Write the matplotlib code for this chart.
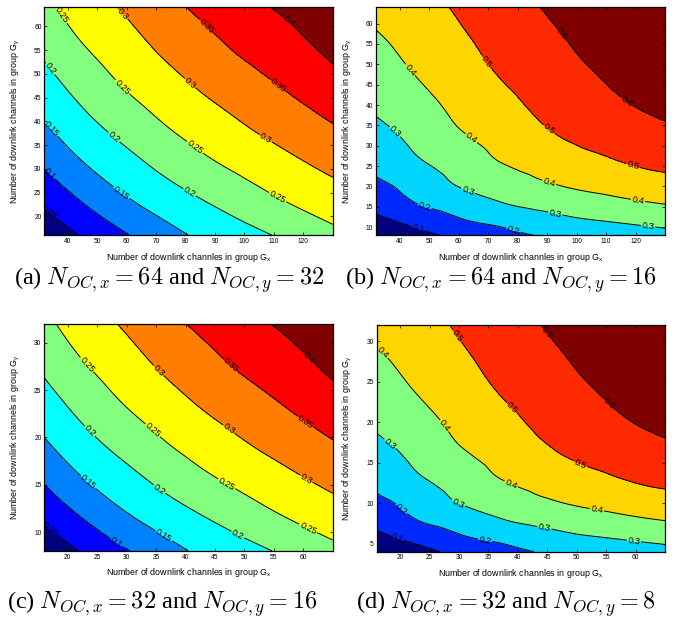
import numpy as np
import matplotlib
matplotlib.use("Agg")
import matplotlib.pyplot as plt
import matplotlib.tri as mtri
from matplotlib.colors import LinearSegmentedColormap

plt.rcParams.update({"font.family": "Liberation Sans", "mathtext.fontset": "cm"})

# ---- field for N_OC,x = 2*N_OC,y (panels a and c); rows follow the y grid, columns the x grid ----
x_a = [32, 46, 60, 74, 88, 102, 116, 130]
y_a = [16, 24, 32, 40, 48, 56, 64]
x_c = [16, 23, 30, 37, 44, 51, 58, 65]
y_c = [8, 12, 16, 20, 24, 28, 32]
z_ac = [
    [0.012, 0.057, 0.097, 0.134, 0.164, 0.187, 0.212, 0.237],
    [0.065, 0.110, 0.149, 0.180, 0.207, 0.233, 0.258, 0.280],
    [0.110, 0.155, 0.189, 0.220, 0.248, 0.272, 0.295, 0.317],
    [0.150, 0.191, 0.224, 0.255, 0.281, 0.306, 0.329, 0.352],
    [0.183, 0.222, 0.256, 0.285, 0.312, 0.336, 0.359, 0.384],
    [0.212, 0.251, 0.282, 0.313, 0.339, 0.364, 0.386, 0.415],
    [0.238, 0.276, 0.307, 0.338, 0.364, 0.390, 0.411, 0.443],
]
levels_ac = [0.05, 0.1, 0.15, 0.2, 0.25, 0.3, 0.35, 0.4]

# ---- field for N_OC,x = 4*N_OC,y (panels b and d) ----
x_b = [32, 46, 60, 74, 88, 102, 116, 130]
y_b = [8, 12, 16, 20, 24, 32, 40, 48, 56, 64]
x_d = [16, 23, 30, 37, 44, 51, 58, 65]
y_d = [4, 6, 8, 10, 12, 16, 20, 24, 28, 32]
z_bd = [
    [0.030, 0.071, 0.126, 0.167, 0.205, 0.227, 0.247, 0.268],
    [0.083, 0.140, 0.195, 0.232, 0.270, 0.298, 0.319, 0.340],
    [0.131, 0.203, 0.248, 0.297, 0.329, 0.359, 0.384, 0.405],
    [0.177, 0.237, 0.301, 0.337, 0.383, 0.413, 0.436, 0.457],
    [0.214, 0.273, 0.331, 0.382, 0.420, 0.454, 0.483, 0.506],
    [0.268, 0.324, 0.386, 0.430, 0.479, 0.516, 0.542, 0.571],
    [0.316, 0.366, 0.423, 0.469, 0.518, 0.551, 0.592, 0.624],
    [0.353, 0.406, 0.453, 0.506, 0.546, 0.587, 0.627, 0.650],
    [0.390, 0.433, 0.483, 0.532, 0.573, 0.618, 0.655, 0.670],
    [0.421, 0.460, 0.512, 0.557, 0.601, 0.646, 0.680, 0.688],
]
levels_bd = [0.1, 0.2, 0.3, 0.4, 0.5, 0.6]

captions = [r"(a) $N_{OC,x} = 64$ and $N_{OC,y} = 32$", r"(b) $N_{OC,x} = 64$ and $N_{OC,y} = 16$",
            r"(c) $N_{OC,x} = 32$ and $N_{OC,y} = 16$", r"(d) $N_{OC,x} = 32$ and $N_{OC,y} = 8$"]

# MATLAB-style jet
JET = LinearSegmentedColormap.from_list("mjet", [(0, (0, 0, .5)), (1/8, (0, 0, 1)), (3/8, (0, 1, 1)),
                                                  (5/8, (1, 1, 0)), (7/8, (1, 0, 0)), (1, (.5, 0, 0))])

panels = [
    (x_a, y_a, z_ac, levels_ac, (0.0656, 0.6229, 0.4273, 0.3654), np.arange(40, 121, 10), np.arange(20, 61, 5), (32, 130), (16, 64)),
    (x_b, y_b, z_bd, levels_bd, (0.5570, 0.6229, 0.4282, 0.3654), np.arange(40, 121, 10), np.arange(10, 61, 5), (32, 130), (8, 64)),
    (x_c, y_c, z_ac, levels_ac, (0.0656, 0.1170, 0.4273, 0.3638), np.arange(20, 61, 5), np.arange(10, 31, 5), (16, 65), (8, 32)),
    (x_d, y_d, z_bd, levels_bd, (0.5580, 0.1160, 0.4272, 0.3632), np.arange(20, 61, 5), np.arange(5, 31, 5), (16, 65), (4, 32)),
]

# label spots along the contour lines (MATLAB put several per line)
label_spots = [
    [(33, 20.5), (33.4, 28.7), (34, 38.2), (58.2, 24.9), (33.4, 50.8), (55.3, 36.4), (81.1, 24.8),
     (38, 62.5), (58.2, 47), (82.9, 34.3), (111, 23.7), (58.5, 62.5), (81.1, 47.7), (107, 36.2),
     (86.9, 60), (111, 47.2), (115, 61)],
    [(46.2, 9.4), (48.4, 14.8), (78.7, 9.4), (37.8, 32.9), (63, 18.6), (92.7, 13.1), (124.2, 10),
     (43.4, 48.5), (63.6, 31.2), (90.5, 20.5), (120.8, 16.4), (69.2, 50.5), (90, 33.3), (119, 24.7),
     (94.4, 57.2), (116.9, 40.7)],
    [(17.2, 10.4), (28.3, 8.9), (23.6, 15.4), (36.1, 9.4), (23.6, 20.6), (35.3, 14.3), (48.6, 9.4),
     (23.6, 27.9), (34.2, 20.6), (46.9, 15), (60.6, 10.1), (35.3, 27), (46.9, 20.5), (60.3, 15.4),
     (47.5, 27.5), (60, 21.3), (60.8, 28.4)],
    [(19.4, 5.4), (20, 9.1), (34.4, 5.2), (17.8, 16.9), (29.7, 9.7), (44.4, 6.6), (59.7, 5.1),
     (16.7, 28.3), (27.2, 19.4), (38.6, 12), (53.3, 8.7), (29.4, 30.5), (38.3, 21.3), (50.3, 14.3),
     (44.4, 30.9), (55, 21.9)],
]

fig = plt.figure(figsize=(6.75, 6.24), dpi=100)
for i, (xs, ys, zs, lv, rect, xt, yt, xl, yl) in enumerate(panels):
    ax = fig.add_axes(rect)
    X, Y = np.meshgrid(xs, ys)
    Z = np.array(zs)
    # smooth rendering of the read grid with matplotlib's own tri refiner
    tri = mtri.Triangulation(X.ravel(), Y.ravel())
    interp = mtri.CubicTriInterpolator(tri, Z.ravel(), kind="min_E")
    tri_f, z_f = mtri.UniformTriRefiner(tri).refine_field(Z.ravel(), triinterpolator=interp, subdiv=4)
    n = len(lv) + 1
    cols = [JET(k / (n - 1)) for k in range(n)]
    ax.tricontourf(tri_f, z_f, levels=[-1] + lv + [2], colors=cols)
    cs = ax.tricontour(tri_f, z_f, levels=lv, colors="k", linewidths=0.7)
    ax.clabel(cs, fmt="%g", fontsize=6.5, inline=True, inline_spacing=1, manual=label_spots[i])
    ax.set_xlim(*xl); ax.set_ylim(*yl)
    ax.set_xticks(xt); ax.set_yticks(yt)
    ax.tick_params(direction="in", length=2, width=0.5, labelsize=4.8, pad=2, top=True, right=True)
    for s in ax.spines.values():
        s.set_linewidth(0.9)
    ax.set_xlabel(r"Number of downlink channles in group G$_\mathregular{x}$", fontsize=6.4)
    ax.set_ylabel(r"Number of downlink channels in group G$_\mathregular{y}$", fontsize=6.4)
    ax.xaxis.set_label_coords(0.5, -0.068)
    ax.yaxis.set_label_coords(-0.077, 0.5)

cap_pos = [(169 / 675, 1 - 280 / 624), (501 / 675, 1 - 280 / 624), (162 / 675, 1 - 604 / 624), (506 / 675, 1 - 604 / 624)]
for (cx, cy), t in zip(cap_pos, captions):
    fig.text(cx, cy, t, ha="center", va="center", fontsize=17.5, family="Liberation Serif")

fig.savefig("out.png", dpi=100)
